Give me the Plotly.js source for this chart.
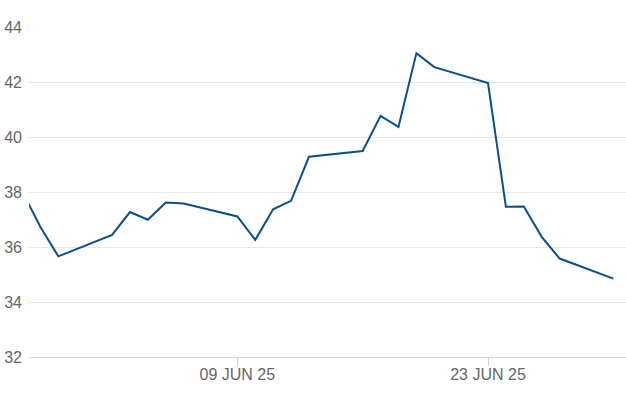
<!DOCTYPE html>
<html>
<head>
<meta charset="utf-8">
<script src="https://cdn.plot.ly/plotly-3.0.1.min.js"></script>
<style>html,body{margin:0;padding:0;background:#fff;}#chart{width:626px;height:417px;}</style>
</head>
<body>
<div id="chart"></div>
<script>
const dates = ['2025-05-28','2025-05-29','2025-05-30','2025-06-02','2025-06-03','2025-06-04','2025-06-05','2025-06-06',
  '2025-06-09','2025-06-10','2025-06-11','2025-06-12','2025-06-13','2025-06-16','2025-06-17','2025-06-18','2025-06-19',
  '2025-06-20','2025-06-23','2025-06-24','2025-06-25','2025-06-26','2025-06-27','2025-06-30'];
const values = [38.0,36.73,35.66,36.44,37.27,36.99,37.62,37.58,
  37.11,36.26,37.37,37.68,39.28,39.49,40.77,40.37,43.05,
  42.54,41.96,37.46,37.47,36.37,35.58,34.85];
const xTickVals = ['2025-06-09','2025-06-23'];
const xTickText = ['09 JUN 25','23 JUN 25'];
const yTickVals = [32,34,36,38,40,42,44];

const trace = {
  x: dates, y: values, type: 'scatter', mode: 'lines',
  line: {color: '#0b4f8a', width: 2}, hoverinfo: 'x+y'
};
const layout = {
  width: 626, height: 417,
  margin: {l: 29, r: 0, t: 27, b: 60, pad: 0},
  paper_bgcolor: '#fff', plot_bgcolor: '#fff',
  showlegend: false,
  font: {family: 'Liberation Sans, Arial, sans-serif', size: 16, color: '#666666'},
  xaxis: {
    type: 'date',
    range: ['2025-05-28 08:40', '2025-06-30 17:00'],
    tickmode: 'array', tickvals: xTickVals, ticktext: xTickText,
    ticks: 'outside', ticklen: 8, tickcolor: '#ccd6eb', tickwidth: 1,
    ticklabelstandoff: -5,
    showgrid: false, zeroline: false,
    showline: true, linecolor: '#ccd6eb', linewidth: 1,
    tickfont: {size: 16, color: '#666666'}
  },
  yaxis: {
    range: [32, 44],
    tickmode: 'array', tickvals: yTickVals,
    showgrid: true, gridcolor: '#e6e6e6', gridwidth: 1,
    zeroline: false, showline: false, ticks: '',
    ticklabelstandoff: 6,
    tickfont: {size: 16, color: '#666666'}
  }
};
Plotly.newPlot('chart', [trace], layout, {displayModeBar: false, staticPlot: true});
</script>
</body>
</html>
